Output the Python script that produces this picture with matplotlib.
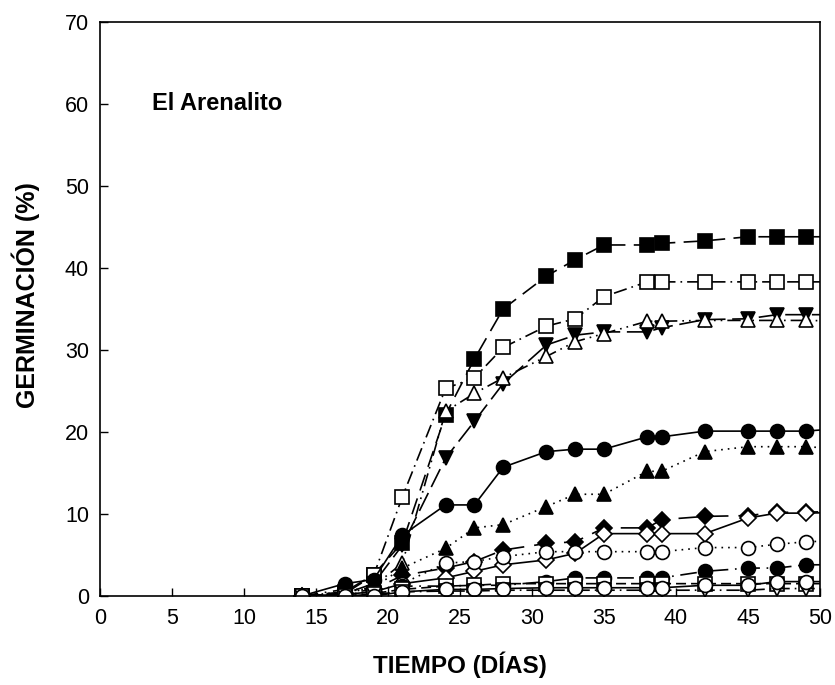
import matplotlib
matplotlib.use("Agg")
import matplotlib.pyplot as plt

plt.rcParams['font.family'] = ['Liberation Sans', 'DejaVu Sans']

dias = [14, 17, 19, 21, 24, 26, 28, 31, 33, 35, 38, 39, 42, 45, 47, 49, 52]

s_cuad_lleno = [0, 0.5, 2.6, 6.5, 22.1, 28.9, 35.0, 39.0, 41.0, 42.8, 42.8, 43.0, 43.3, 43.8, 43.8, 43.8, 43.8]
s_cuad_vacio = [0, 0.3, 2.5, 12.1, 25.3, 26.6, 30.3, 32.9, 33.8, 36.5, 38.3, 38.3, 38.3, 38.3, 38.3, 38.3, 38.3]
s_trib_lleno = [0, 0.3, 1.5, 6.2, 16.8, 21.3, 25.9, 30.6, 31.8, 32.2, 32.2, 32.7, 33.7, 33.8, 34.3, 34.3, 34.3]
s_tria_vacio = [0, 0.2, 1.2, 4.0, 22.5, 24.7, 26.6, 29.2, 31.0, 32.0, 33.5, 33.5, 33.6, 33.6, 33.6, 33.6, 33.5]
s_circ_lleno = [0, 1.5, 2.0, 7.4, 11.1, 11.1, 15.7, 17.6, 17.9, 17.9, 19.4, 19.4, 20.1, 20.1, 20.1, 20.1, 20.5]
s_tria_lleno = [0, 0.5, 1.0, 3.4, 5.8, 8.3, 8.7, 10.9, 12.4, 12.4, 15.2, 15.2, 17.6, 18.2, 18.2, 18.2, 17.9]
s_diam_lleno = [0, 0.3, 0.8, 2.5, 3.4, 4.2, 5.6, 6.4, 6.6, 8.3, 8.3, 9.3, 9.7, 9.8, 10.2, 10.2, 10.4]
s_diam_vacio = [0, 0.2, 0.5, 1.5, 2.2, 3.0, 3.8, 4.4, 5.2, 7.6, 7.6, 7.6, 7.6, 9.5, 10.1, 10.1, 10.2]
s_circ_vacio = [0, 0.2, 0.5, 1.5, 4.0, 4.2, 4.8, 5.4, 5.4, 5.4, 5.4, 5.4, 5.9, 5.9, 6.3, 6.6, 6.8]
s_circ_lleno2 = [0, 0.8, 0.8, 1.2, 1.2, 1.3, 1.3, 1.75, 2.2, 2.2, 2.2, 2.2, 3.0, 3.4, 3.4, 3.8, 3.8]
s_cuad_vacio2 = [0, 0, 0.3, 0.8, 1.2, 1.3, 1.5, 1.5, 1.5, 1.5, 1.5, 1.5, 1.5, 1.5, 1.5, 1.5, 1.5]
s_trib_vacio = [0, 0, 0.2, 0.5, 0.6, 0.6, 0.7, 0.7, 0.7, 0.7, 0.7, 0.7, 0.7, 0.7, 0.9, 0.9, 0.9]
s_circ_vacio2 = [0, 0, 0, 0.5, 0.8, 0.8, 0.9, 1.0, 1.0, 1.0, 1.0, 1.0, 1.3, 1.3, 1.75, 1.75, 1.75]

x_ticks = [0, 5, 10, 15, 20, 25, 30, 35, 40, 45, 50]
y_ticks = [0, 10, 20, 30, 40, 50, 60, 70]

series = [
    (s_cuad_lleno, 's', 'black', (0, (10, 5))),
    (s_cuad_vacio, 's', 'white', (0, (8, 3, 1, 3))),
    (s_trib_lleno, 'v', 'black', (0, (12, 4))),
    (s_tria_vacio, '^', 'white', (0, (8, 3, 1, 3, 1, 3))),
    (s_circ_lleno, 'o', 'black', '-'),
    (s_tria_lleno, '^', 'black', (0, (1, 3))),
    (s_diam_lleno, 'D', 'black', (0, (12, 6))),
    (s_diam_vacio, 'D', 'white', '-'),
    (s_circ_vacio, 'o', 'white', (0, (1, 3))),
    (s_circ_lleno2, 'o', 'black', (0, (10, 4, 1, 4))),
    (s_cuad_vacio2, 's', 'white', (0, (6, 3))),
    (s_trib_vacio, 'v', 'white', (0, (8, 3, 1, 3))),
    (s_circ_vacio2, 'o', 'white', '-'),
]

fig = plt.figure(figsize=(8.35, 6.85), dpi=100)
ax = fig.add_axes([0.1198, 0.130, 0.8622, 0.838])

sizes = {'s': 9.5, 'o': 10, '^': 10, 'v': 10, 'D': 8.5}
for vals, mk, fc, ls in series:
    ax.plot(dias, vals, color='black', linestyle=ls, linewidth=1.2,
            marker=mk, markersize=sizes[mk], markerfacecolor=fc,
            markeredgecolor='black', markeredgewidth=1.2, clip_on=True)

ax.set_xlim(0, 50)
ax.set_ylim(0, 70)
ax.set_xticks(x_ticks)
ax.set_yticks(y_ticks)
ax.tick_params(direction='in', length=6, width=1, labelsize=15.5,
               top=False, right=False)
ax.tick_params(axis='x', pad=9)
ax.tick_params(axis='y', pad=8)
for sp in ax.spines.values():
    sp.set_linewidth(1.2)

ax.set_xlabel('TIEMPO (DÍAS)', fontsize=17.5, fontweight='bold', labelpad=16,
              family=['Liberation Sans Narrow', 'Liberation Sans'])
ax.set_ylabel('GERMINACIÓN (%)', fontsize=18, fontweight='bold')
ax.yaxis.set_label_coords(-0.083, 0.524)
ax.text(3.6, 60, 'El Arenalito', fontsize=17, fontweight='bold',
        ha='left', va='center')

fig.savefig('out.png', dpi=100)
